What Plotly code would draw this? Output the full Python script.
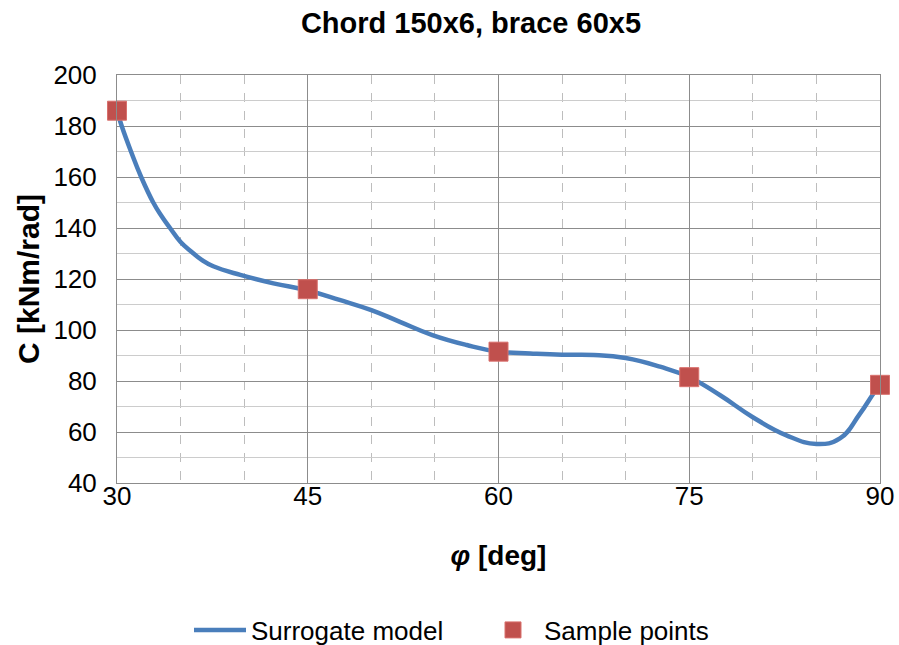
import plotly.graph_objects as go

# Surrogate model curve
curve_phi = [30, 30.37, 31.1, 31.9, 32.85, 33.46, 34.17, 35, 35.9, 36.66, 37.57, 39.7, 42.3,
             45, 47.5, 50, 52.2, 54.8, 57.5, 60, 62.5, 65, 67.5, 70, 72.7, 75, 77.4, 80,
             82.6, 85, 86.85, 88.4, 89.5, 90]
curve_C = [186, 180, 170, 160, 150, 145, 140, 134.5, 130.5, 127.5, 125, 121.6, 118.3,
           115.5, 111.8, 107.8, 103.3, 98, 94.1, 91.5, 90.8, 90.3, 90.2, 89, 85.6, 81.5,
           74.5, 65.8, 58.8, 55.3, 57.5, 67, 75.2, 78.5]

# Sample points
sample_phi = [30, 45, 60, 75, 90]
sample_C = [186, 116, 91.5, 81.5, 78.5]

x_ticks = [30, 45, 60, 75, 90]
y_ticks = [40, 60, 80, 100, 120, 140, 160, 180, 200]

FONT = "Liberation Sans, Arial, sans-serif"

fig = go.Figure()
fig.add_trace(go.Scatter(
    x=curve_phi, y=curve_C, mode="lines", name="Surrogate model",
    line=dict(color="#4A7EBB", width=4.5, shape="spline", smoothing=1.3),
))
fig.add_trace(go.Scatter(
    x=sample_phi, y=sample_C, mode="markers", name="Sample points",
    marker=dict(symbol="square", size=19, color="#C0504D",
                line=dict(color="#D9706D", width=1)),
    cliponaxis=False,
))

fig.update_layout(
    width=899, height=645,
    paper_bgcolor="white", plot_bgcolor="white",
    margin=dict(l=117, r=19, t=75, b=162, autoexpand=False),
    font=dict(family=FONT, size=26, color="black"),
    title=dict(text="<b>Chord 150x6, brace 60x5</b>", x=471 / 899, xanchor="center",
               xref="container", y=1 - 23 / 645, yref="container", yanchor="middle",
               font=dict(family=FONT, size=29)),
    showlegend=True,
    legend=dict(orientation="h", x=(189 - 117) / 763, xanchor="left",
                y=(483 - 630) / 408, yanchor="middle",
                font=dict(family=FONT, size=26), itemwidth=52,
                entrywidthmode="pixels", entrywidth=226),
    xaxis=dict(
        range=[30, 90], tickvals=x_ticks, ticktext=[str(v) for v in x_ticks],
        showgrid=True, gridcolor="#8C8C8C", gridwidth=1,
        showline=True, linecolor="#8C8C8C", linewidth=1, mirror=True,
        ticks="", ticklen=0, zeroline=False,
        minor=dict(dtick=5, tick0=30, showgrid=True, gridcolor="#BDBDBD",
                   griddash="dash", gridwidth=1),
        title=dict(text="<b><i>φ</i> [deg]</b>", font=dict(family=FONT, size=28), standoff=35),
        tickfont=dict(size=26), ticklabelstandoff=-10,
    ),
    yaxis=dict(
        range=[40, 200], tickvals=y_ticks,
        showgrid=True, gridcolor="#8C8C8C", gridwidth=1,
        showline=True, linecolor="#8C8C8C", linewidth=1, mirror=True,
        ticks="", ticklen=0, zeroline=False,
        minor=dict(dtick=10, tick0=40, showgrid=True, gridcolor="#CCCCCC", gridwidth=1),
        title=dict(text="<b>C [kNm/rad]</b>", font=dict(family=FONT, size=30), standoff=4),
        tickfont=dict(size=26), ticklabelstandoff=14,
    ),
)

fig.write_html("out.html", config={"displayModeBar": False},
               post_script="document.body.style.margin='0px';")
